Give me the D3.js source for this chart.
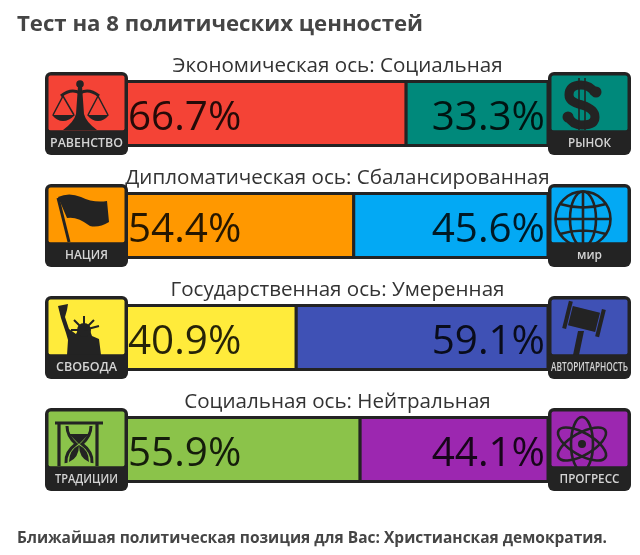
<!DOCTYPE html>
<html><head><meta charset="utf-8">
<script src="https://cdn.jsdelivr.net/npm/d3@7"></script>
<style>html,body{margin:0;padding:0;background:#fff}svg{display:block;filter:blur(0.4px)}text{font-family:"Open Sans",sans-serif}</style>
</head><body><svg id="c" width="640" height="555"></svg>
<script>
const axisTitles=["Экономическая ось: Социальная","Дипломатическая ось: Сбалансированная","Государственная ось: Умеренная","Социальная ось: Нейтральная"];
const leftValues=[66.7,54.4,40.9,55.9];
const rightValues=[33.3,45.6,59.1,44.1];
const leftLabels=["РАВЕНСТВО","НАЦИЯ","СВОБОДА","ТРАДИЦИИ"];
const rightLabels=["РЫНОК","мир","АВТОРИТАРНОСТЬ","ПРОГРЕСС"];
const leftColors=["#f44336","#ff9800","#ffeb3b","#8bc34a"];
const rightColors=["#00897b","#03a9f4","#3f51b5","#9c27b0"];
const leftIcons=["scales","flag","liberty","hourglass"];
const rightIcons=["dollar","globe","gavel","atom"];
const labelWidths={"РАВЕНСТВО":73,"НАЦИЯ":43,"СВОБОДА":61,"ТРАДИЦИИ":63,"РЫНОК":43,"мир":25,"АВТОРИТАРНОСТЬ":77,"ПРОГРЕСС":60};
const titleText="Тест на 8 политических ценностей";
const footerText="Ближайшая политическая позиция для Вас: Христианская демократия.";

const INK="#232323",svg=d3.select("#c");
const x=d3.scaleLinear().domain([0,100]).range([122,548]);
const y=d3.scaleBand().domain(d3.range(4)).range([72,520]);
const S=83;

svg.append("text").attr("x",17).attr("y",31).attr("font-size",22.2).attr("font-weight",700).attr("fill","#454545").text(titleText);
svg.append("text").attr("x",17).attr("y",543).attr("font-size",15.5).attr("font-weight",700).attr("fill","#454545").text(footerText);

const draw={
 scales(g){
  g.append("circle").attr("cx",35).attr("cy",12).attr("r",3.8).attr("fill",INK);
  g.append("path").attr("d","M33,14H37L39,42Q41,50 52,58H18Q29,50 31,42Z").attr("fill",INK);
  g.append("path").attr("d","M16,24Q26,16 35,21Q44,16 54,24").attr("fill","none").attr("stroke",INK).attr("stroke-width",3);
  [[18,7,30],[53,42,64]].forEach(([c,a,b])=>{
   g.append("path").attr("d",`M${a},43H${b}Q${c+6},49 ${c},49Q${c-6},49 ${a},43Z`).attr("fill",INK);
   g.append("path").attr("d",`M${a+1},43L${c},24L${b-1},43`).attr("fill","none").attr("stroke",INK).attr("stroke-width",1.5);
  });
 },
 dollar(g){
  g.append("path").attr("d","M47,21Q42,13 33,13Q21,13 21,23Q21,30 34,33Q47,37 47,45Q47,53 34,53Q24,53 20,44").attr("fill","none").attr("stroke",INK).attr("stroke-width",9);
  g.append("circle").attr("cx",48).attr("cy",20).attr("r",5.5).attr("fill",INK);
  g.append("circle").attr("cx",20).attr("cy",45).attr("r",5.5).attr("fill",INK);
  g.append("path").attr("d","M31,6V58M37,6V58").attr("stroke",INK).attr("stroke-width",1.6);
 },
 flag(g){
  g.append("path").attr("d","M13,14L24,58").attr("stroke",INK).attr("stroke-width",3);
  g.append("path").attr("d","M13,13Q24,8 36,13Q48,19 62,17L64,38Q54,44 45,42Q32,32 22,34Z").attr("fill",INK);
 },
 globe(g){
  const s=g.append("g").attr("fill","none").attr("stroke",INK).attr("stroke-width",2.6);
  s.append("circle").attr("cx",35).attr("cy",35).attr("r",27.5);
  s.append("ellipse").attr("cx",35).attr("cy",35).attr("rx",13).attr("ry",27.5);
  s.append("path").attr("d","M35,7.5V62.5M7.5,35H62.5M12,20Q35,27 58,20M12,50Q35,43 58,50");
 },
 liberty(g){
  g.append("path").attr("d","M13,10L23,8L22,14L20,21L24,33L31,38L34,32H44L47,40L54,43L56,59H22L23,44L21,37L16,22Z").attr("fill",INK);
  g.append("circle").attr("cx",39).attr("cy",34).attr("r",7).attr("fill",INK);
  g.append("path").attr("d","M39,34L39,20M39,34L29,24M39,34L49,24M39,34L54,30M39,34L26,34").attr("stroke",INK).attr("stroke-width",2);
 },
 gavel(g){
  const h=g.append("g").attr("transform","rotate(14 36 23)").attr("fill",INK);
  h.append("rect").attr("x",22).attr("y",13).attr("width",28).attr("height",20);
  h.append("rect").attr("x",17).attr("y",9).attr("width",4).attr("height",28);
  h.append("rect").attr("x",51).attr("y",9).attr("width",4).attr("height",28);
  g.append("path").attr("d","M30,35H36L31,59H25Z").attr("fill",INK);
 },
 hourglass(g){
  g.append("path").attr("d","M10,15H58M14,15V58M52,15V58").attr("fill","none").attr("stroke",INK).attr("stroke-width",3.2);
  g.append("path").attr("d","M22,18Q22,28 31,36Q20,44 21,55M46,18Q46,28 37,36Q48,44 47,55").attr("fill","none").attr("stroke",INK).attr("stroke-width",3);
  g.append("path").attr("d","M24,26H44L34,36ZM34,37Q24,42 24,54Q34,50 34,37ZM34,37Q44,42 44,54Q34,50 34,37Z").attr("fill",INK);
 },
 atom(g){
  const s=g.append("g").attr("fill","none").attr("stroke",INK).attr("stroke-width",2.6);
  [30,-30,90].forEach(a=>s.append("ellipse").attr("cx",34).attr("cy",36).attr("rx",27).attr("ry",11).attr("transform",`rotate(${a} 34 36)`));
  g.append("circle").attr("cx",34).attr("cy",36).attr("r",4).attr("fill",INK);
 }
};

function icon(left,top,color,name,label){
 const g=svg.append("g").attr("transform",`translate(${left},${top})`);
 g.append("rect").attr("width",S).attr("height",S).attr("rx",6).attr("fill",INK);
 g.append("rect").attr("x",3.5).attr("y",3.5).attr("width",S-7).attr("height",55).attr("rx",2).attr("fill",color);
 const art=g.append("g");
 draw[name](art);
 g.append("rect").attr("x",0).attr("y",58.5).attr("width",S).attr("height",S-58.5-6).attr("fill",INK);
 const t=g.append("text").attr("text-anchor","middle").attr("font-size",12.5).attr("font-weight",600).attr("fill","#d4d4d4").text(label);
 const k=labelWidths[label]/t.node().getComputedTextLength();
 t.attr("transform",`translate(${S/2},74.5) scale(${k},1)`);
}

d3.range(4).forEach(i=>{
 const top=y(i),split=x(leftValues[i]);
 svg.append("rect").attr("x",x(0)).attr("y",top+9.5).attr("width",split-x(0)).attr("height",64).attr("fill",leftColors[i]).attr("stroke",INK).attr("stroke-width",3);
 svg.append("rect").attr("x",split).attr("y",top+9.5).attr("width",x(100)-split).attr("height",64).attr("fill",rightColors[i]).attr("stroke",INK).attr("stroke-width",3);
 svg.append("text").attr("x",337.5).attr("y",top).attr("text-anchor","middle").attr("font-size",20.6).attr("fill","#333").text(axisTitles[i]);
 svg.append("text").attr("x",128).attr("y",top+58).attr("font-size",40.4).attr("fill","#000").attr("fill-opacity",0.85).text(leftValues[i].toFixed(1)+"%");
 svg.append("text").attr("x",545).attr("y",top+58).attr("text-anchor","end").attr("font-size",40.4).attr("fill","#000").attr("fill-opacity",0.85).text(rightValues[i].toFixed(1)+"%");
 icon(45,top,leftColors[i],leftIcons[i],leftLabels[i]);
 icon(548,top,rightColors[i],rightIcons[i],rightLabels[i]);
});
</script></body></html>
